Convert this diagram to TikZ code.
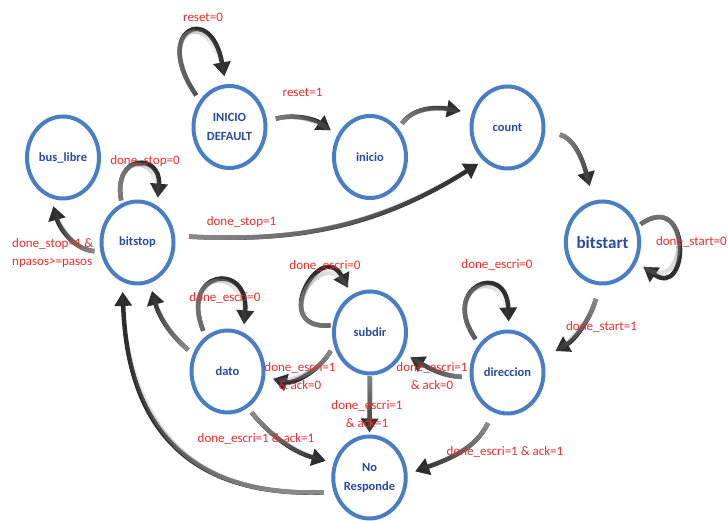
\documentclass[tikz,border=0pt]{standalone}
\usepackage{fontspec}
\setmainfont{Carlito}
\usetikzlibrary{arrows.meta,shapes.geometric,fadings}

\definecolor{ring}{HTML}{4A7EC4}
\definecolor{statetext}{HTML}{2A4A9C}
\definecolor{condred}{HTML}{EE2C2C}
\definecolor{arrowdark}{HTML}{2E2E2E}
\definecolor{arrowlight}{HTML}{8A8A8A}

% the lighter tail of each transition fades out towards its head
\tikzfading[name=tailfade, left color=transparent!0, right color=transparent!100]

\begin{document}
\begin{tikzpicture}[x=1pt,y=1pt,
  state/.style={ellipse, draw=ring, line width=4pt, minimum width=72pt,
    minimum height=82pt, inner sep=0pt, fill=white, text=statetext,
    align=center, font=\fontsize{12.5}{19}\selectfont\bfseries},
  cond/.style={text=condred, inner sep=0pt, align=center,
    font=\fontsize{13}{18}\selectfont},
  trans/.style={draw=arrowdark, line width=4.5pt,
    -{Triangle[length=14pt,width=17pt]}, shorten <=6pt, shorten >=8pt},
  fadefrom/.style={postaction={draw=arrowlight, -, line width=4.5pt,
    path fading=tailfade, fading angle=#1}}
]
\fill[white] (0,0) rectangle (728,521);
\useasboundingbox (0,0) rectangle (728,521);

% states
\node[state] (ini)      at (229.5,394)   {INICIO\\DEFAULT};
\node[state] (inicio)   at (370,364)     {inicio};
\node[state] (count)    at (507.5,393.5) {count};
\node[state, font=\fontsize{17}{19}\selectfont\bfseries] (bitstart) at (602.5,278.5) {bitstart};
\node[state] (bus)      at (63,363.5)    {bus\_libre};
\node[state] (bitstop)  at (137.5,278.5) {bitstop};
\node[state] (dato)     at (227.5,149.5) {dato};
\node[state] (subdir)   at (370,188.5)   {subdir};
\node[state] (dir)      at (507.5,148.5) {direccion};
\node[state] (noresp)   at (369.5,43.5)  {No\\Responde};

% transitions
\draw[trans, fadefrom=0] (ini.138) to[out=125, in=100, distance=85pt] (ini.95);
\draw[trans, fadefrom=0, shorten <=9pt] (ini.9) to[out=15, in=145] (inicio.146);
\draw[trans, fadefrom=30, shorten >=11pt] (inicio.45) to[out=55, in=170] (count.158);
\draw[trans, fadefrom=-60, shorten <=15pt, shorten >=15pt] (count.-5) to[out=-15, in=105] (bitstart.102);
\draw[trans, fadefrom=-90, shorten <=3pt] (bitstart.25) to[out=35, in=-35, distance=65pt] (bitstart.-30);
\draw[trans, fadefrom=-135, shorten <=14pt, shorten >=14pt] (bitstart.-94) to[out=-105, in=30] (dir.22);
\draw[trans, fadefrom=0] (dir.135) to[out=125, in=92, distance=70pt] (dir.88);
\draw[trans, fadefrom=180, shorten <=8pt] (dir.187) to[out=178, in=-30] (subdir.-32);
\draw[trans, fadefrom=-150, shorten <=12pt] (dir.-110) to[out=-115, in=20] (noresp.5);
\draw[trans, fadefrom=45, shorten <=2pt] (subdir.169) to[out=185, in=118, distance=65pt] (subdir.116);
\draw[trans, fadefrom=200] (subdir.-160) to[out=-120, in=-15] (dato.-8);
\draw[trans, fadefrom=-90, shorten <=1pt, shorten >=2pt] (subdir.south) -- (noresp.north);
\draw[trans, fadefrom=0] (dato.122) to[out=112, in=85, distance=72pt] (dato.68);
\draw[trans, fadefrom=120] (dato.153) to[out=140, in=-75] (bitstop.-73);
\draw[trans, fadefrom=-30] (dato.-61) to[out=-50, in=165] (noresp.158);
\draw[trans, fadefrom=135, shorten <=10pt, shorten >=10pt] (noresp.202) to[out=182, in=-88, looseness=1.25] (bitstop.-111);
\draw[trans, fadefrom=0, shorten <=3pt] (bitstop.112) to[out=100, in=85, distance=52pt] (bitstop.62);
\draw[trans, fadefrom=10, shorten <=14pt, shorten >=6pt] (bitstop.10) to[out=-3, in=-148] (count.-126);
\draw[trans, fadefrom=150] (bitstop.194) to[out=175, in=-75] (bus.-106);

% transition conditions
\node[cond] (c1)  at (203,504)     {reset=0};
\node[cond] (c2)  at (302.5,429)   {reset=1};
\node[cond, anchor=east] (c3) at (727,279) {done\_start=0};
\node[cond] (c4)  at (601.5,194)   {done\_start=1};
\node[cond] (c5)  at (497,256)     {done\_escri=0};
\node[cond] (c6)  at (432,145)     {done\_escri=1\\\& ack=0};
\node[cond] (c7)  at (505,69)      {done\_escri=1 \& ack=1};
\node[cond] (c8)  at (325,255)     {done\_escri=0};
\node[cond] (c9)  at (300,145)     {done\_escri=1\\\& ack=0};
\node[cond] (c10) at (367,106.5)   {done\_escri=1\\\& ack=1};
\node[cond] (c11) at (225,223)     {done\_escri=0};
\node[cond] (c12) at (256,82)      {done\_escri=1 \& ack=1};
\node[cond] (c13) at (145,360)     {done\_stop=0};
\node[cond] (c14) at (241.5,299)   {done\_stop=1};
\node[cond, anchor=west, align=left] (c15) at (12,267.5) {done\_stop=1 \&\\npasos>=pasos};
\end{tikzpicture}
\end{document}
